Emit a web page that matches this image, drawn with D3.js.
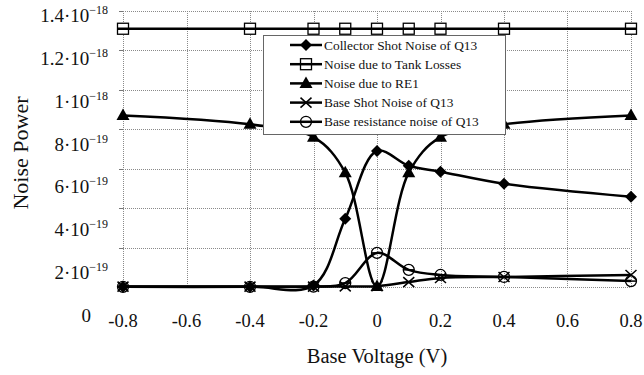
<!DOCTYPE html>
<html>
<head>
<meta charset="utf-8">
<script src="https://cdn.jsdelivr.net/npm/d3@7"></script>
<style>
  body { margin: 0; background: #fff; }
  svg { display: block; font-family: "Liberation Serif", "Times New Roman", serif; }
</style>
</head>
<body>
<svg id="chart" width="644" height="375"></svg>
<script>
// data
const voltages = [-0.8, -0.4, -0.2, -0.1, 0, 0.1, 0.2, 0.4, 0.8];
const collectorShot = [1e-21, 1e-21, 8e-21, 3.46e-19, 6.9e-19, 6.15e-19, 5.85e-19, 5.24e-19, 4.58e-19];
const tankLosses = [1.31e-18, 1.31e-18, 1.31e-18, 1.31e-18, 1.31e-18, 1.31e-18, 1.31e-18, 1.31e-18, 1.31e-18];
const re1Noise = [8.7e-19, 8.25e-19, 7.6e-19, 5.8e-19, 3e-21, 5.8e-19, 7.6e-19, 8.25e-19, 8.7e-19];
const baseShot = [2e-21, 2e-21, 2e-21, 3e-21, 4e-21, 2.5e-20, 4.6e-20, 5.1e-20, 6.1e-20];
const baseResistance = [1e-21, 1e-21, 2e-21, 2e-20, 1.73e-19, 8.7e-20, 6.1e-20, 5.1e-20, 3e-20];

const seriesNames = ["Collector Shot Noise of Q13", "Noise due to Tank Losses", "Noise due to RE1",
  "Base Shot Noise of Q13", "Base resistance noise of Q13"];
const seriesValues = [collectorShot, tankLosses, re1Noise, baseShot, baseResistance];
const seriesMarkers = ["diamond", "square", "triangle", "cross", "circle"];

const xTicks = [-0.8, -0.6, -0.4, -0.2, 0, 0.2, 0.4, 0.6, 0.8];
const yTicks = [0, 2e-19, 4e-19, 6e-19, 8e-19, 1e-18, 1.2e-18, 1.4e-18];

const svg = d3.select("#chart");

const x = d3.scaleLinear().domain([-0.8, 0.8]).range([123, 631]);
const y = d3.scaleLinear().domain([0, 1.4e-18]).range([287, 11]);
// the tick labels of the original sit on a slightly stretched scale
const yLabel = d3.scaleLinear().domain([0, 1.4e-18]).range([322, 22]);

// gridlines
const grid = svg.append("g").attr("class", "grid")
  .attr("stroke", "#8a8a8a").attr("stroke-width", 1).attr("stroke-dasharray", "1,1");

grid.selectAll(".gx")
  .data(xTicks)
  .enter().append("line")
  .attr("x1", d => Math.round(x(d)) + 0.5).attr("x2", d => Math.round(x(d)) + 0.5)
  .attr("y1", y(1.4e-18)).attr("y2", y(0));

grid.selectAll(".gy")
  .data(yTicks)
  .enter().append("line")
  .attr("x1", x(-0.8)).attr("x2", x(0.8))
  .attr("y1", d => Math.round(y(d)) + 0.5).attr("y2", d => Math.round(y(d)) + 0.5);

// small ticks on the left axis
svg.append("g")
  .selectAll("line")
  .data(yTicks)
  .enter().append("line")
  .attr("x1", x(-0.8) - 4).attr("x2", x(-0.8))
  .attr("y1", d => Math.round(y(d)) + 0.5).attr("y2", d => Math.round(y(d)) + 0.5)
  .attr("stroke", "#777");

// y tick labels: mantissa·10^exp
function splitTick(v) {
  if (v === 0) return null;
  const e = Math.floor(Math.log10(v) + 1e-9);
  const m = +(v / Math.pow(10, e)).toFixed(1);
  return { m: String(m), e: String(e).replace("-", "\u2212") };
}

const yl = svg.append("g").attr("class", "y-labels");
yTicks.forEach(v => {
  const parts = splitTick(v);
  const t = yl.append("text")
    .attr("text-anchor", "end")
    .attr("y", yLabel(v))
    .attr("fill", "#111");
  if (!parts) {
    t.attr("x", 91).style("font-size", "19px").text("0");
    return;
  }
  t.attr("x", 108);
  t.append("tspan").style("font-size", "19px").text(parts.m + "\u00B710");
  t.append("tspan").style("font-size", "12px").attr("dy", -8).text(parts.e);
});

// x tick labels
svg.append("g")
  .selectAll("text")
  .data(xTicks)
  .enter().append("text")
  .attr("x", d => x(d))
  .attr("y", 327)
  .attr("text-anchor", "middle")
  .style("font-size", "18.5px")
  .attr("fill", "#111")
  .text(d => d3.format(".1f")(d).replace("\u2212", "-").replace("0.0", "0"));

// axis titles
svg.append("text")
  .attr("x", (x(-0.8) + x(0.8)) / 2)
  .attr("y", 363)
  .attr("text-anchor", "middle")
  .style("font-size", "20.5px")
  .attr("fill", "#111")
  .text("Base Voltage (V)");

svg.append("text")
  .attr("transform", "translate(28,153) rotate(-90)")
  .attr("text-anchor", "middle")
  .style("font-size", "22px")
  .attr("fill", "#111")
  .text("Noise Power");

// series
const line = d3.line()
  .x((d, i) => x(voltages[i]))
  .y(d => y(d))
  .curve(d3.curveCatmullRom.alpha(0.5));

function drawMarker(sel, type, cx, cy) {
  if (type === "diamond") {
    sel.append("path").attr("d", `M${cx},${cy - 6}L${cx + 6},${cy}L${cx},${cy + 6}L${cx - 6},${cy}Z`)
      .attr("fill", "#000");
  } else if (type === "square") {
    sel.append("rect").attr("x", cx - 5.5).attr("y", cy - 5.5).attr("width", 11).attr("height", 11)
      .attr("fill", "#fff").attr("stroke", "#000").attr("stroke-width", 1.3);
    sel.append("line").attr("x1", cx - 5.5).attr("x2", cx + 5.5).attr("y1", cy).attr("y2", cy)
      .attr("stroke", "#000").attr("stroke-width", 2.5);
  } else if (type === "triangle") {
    sel.append("path").attr("d", `M${cx},${cy - 7}L${cx + 6.5},${cy + 4.5}L${cx - 6.5},${cy + 4.5}Z`)
      .attr("fill", "#000");
  } else if (type === "cross") {
    sel.append("path").attr("d", `M${cx - 5.5},${cy - 5}L${cx + 5.5},${cy + 5}M${cx - 5.5},${cy + 5}L${cx + 5.5},${cy - 5}`)
      .attr("stroke", "#000").attr("stroke-width", 1.5).attr("fill", "none");
  } else if (type === "circle") {
    sel.append("circle").attr("cx", cx).attr("cy", cy).attr("r", 5.5)
      .attr("fill", "none").attr("stroke", "#000").attr("stroke-width", 1.3);
    sel.append("line").attr("x1", cx - 5.5).attr("x2", cx + 5.5).attr("y1", cy).attr("y2", cy)
      .attr("stroke", "#000").attr("stroke-width", 1.5);
  }
}

const plot = svg.append("g").attr("class", "series");
seriesValues.forEach((vals, k) => {
  plot.append("path")
    .datum(vals)
    .attr("d", line)
    .attr("fill", "none")
    .attr("stroke", "#000")
    .attr("stroke-width", 2.5);
});
seriesValues.forEach((vals, k) => {
  const mg = plot.append("g");
  vals.forEach((v, i) => drawMarker(mg, seriesMarkers[k], x(voltages[i]), y(v)));
});

// legend
const legend = svg.append("g").attr("class", "legend");
legend.append("rect")
  .attr("x", 263.5).attr("y", 35.5).attr("width", 242).attr("height", 99)
  .attr("fill", "#fff").attr("stroke", "#666").attr("stroke-width", 1);

seriesNames.forEach((name, k) => {
  const cy = 45 + k * 19.2;
  const g = legend.append("g");
  g.append("line").attr("x1", 290).attr("x2", 322).attr("y1", cy).attr("y2", cy)
    .attr("stroke", "#000").attr("stroke-width", 2.5);
  drawMarker(g, seriesMarkers[k], 306, cy);
  g.append("text")
    .attr("x", 324).attr("y", cy + 4.5)
    .style("font-size", "13.4px")
    .attr("fill", "#111")
    .text(name);
});
</script>
</body>
</html>
